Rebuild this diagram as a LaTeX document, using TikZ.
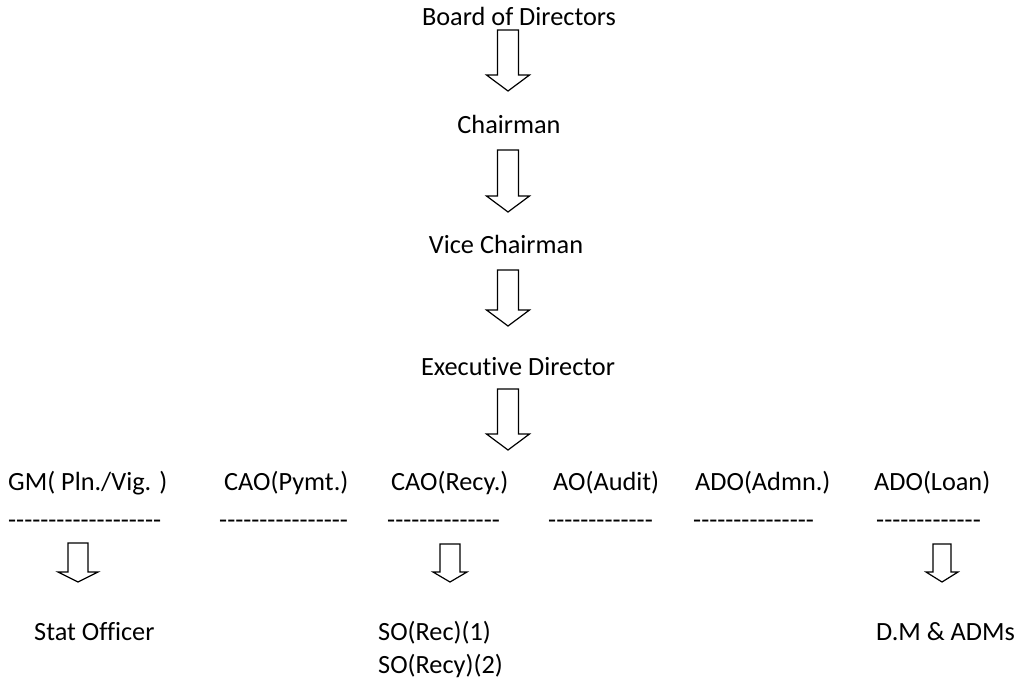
\documentclass[tikz,border=0pt]{standalone}
\usepackage{fontspec}
\setmainfont{Carlito}[Ligatures={TeXOff,NoCommon}]
\usetikzlibrary{calc}

% hollow block arrow pointing down: top, tip, half body, half head, head length
\newcommand{\blockdown}[5]{%
  \draw[blk] let \p1=(#1), \p2=(#2) in
    (\x1-#3,\y1) -- (\x1+#3,\y1) -- (\x1+#3,\y2+#5) -- (\x1+#4,\y2+#5)
    -- (\x2,\y2) -- (\x1-#4,\y2+#5) -- (\x1-#3,\y2+#5) -- cycle;
}

\begin{document}
\begin{tikzpicture}[
  x=1pt, y=-1pt,
  lbl/.style={anchor=base, inner sep=0pt, font=\fontsize{26.3}{33}\selectfont},
  role/.style={lbl, anchor=base west},
  blk/.style={draw, line width=1.2pt, line join=miter}
]
\useasboundingbox (0,0) rectangle (1026,681);

% top of the chain
\node[lbl] (bod) at (519,25) {Board of Directors};
\node[lbl] (chair) at (509,133) {Chairman};
\node[lbl] (vice) at (506,253) {Vice Chairman};
\node[lbl] (ed) at (518,375) {Executive Director};

\coordinate (a1t) at (508,30);  \coordinate (a1b) at (508,91);
\coordinate (a2t) at (508,150); \coordinate (a2b) at (508,212);
\coordinate (a3t) at (508,270); \coordinate (a3b) at (508,326);
\coordinate (a4t) at (508,389); \coordinate (a4b) at (508,450);

\blockdown{a1t}{a1b}{10.5pt}{21.5pt}{16pt}
\blockdown{a2t}{a2b}{10.5pt}{21.5pt}{16pt}
\blockdown{a3t}{a3b}{10.5pt}{21.5pt}{16pt}
\blockdown{a4t}{a4b}{10.5pt}{21.5pt}{16pt}

% second row
\node[role] (gm) at (8,490) {GM( Pln./Vig. )};
\node[role] (caop) at (224,490) {CAO(Pymt.)};
\node[role] (caor) at (391,490) {CAO(Recy.)};
\node[role] (ao) at (553,490) {AO(Audit)};
\node[role] (adoa) at (695,490) {ADO(Admn.)};
\node[role] (adol) at (874,490) {ADO(Loan)};

\node[role] (d1) at (8,528) {-------------------};
\node[role] (d2) at (219,528) {----------------};
\node[role] (d3) at (387,528) {--------------};
\node[role] (d4) at (548,528) {-------------};
\node[role] (d5) at (693,528) {---------------};
\node[role] (d6) at (876,528) {-------------};

\coordinate (s1t) at (78,543);  \coordinate (s1b) at (78,582);
\coordinate (s2t) at (450,544); \coordinate (s2b) at (450,582);
\coordinate (s3t) at (942,544); \coordinate (s3b) at (942,582);

\blockdown{s1t}{s1b}{10pt}{20pt}{10pt}
\blockdown{s2t}{s2b}{10pt}{17pt}{10pt}
\blockdown{s3t}{s3b}{9pt}{16pt}{10pt}

% bottom row
\node[role] (stat) at (34,640) {Stat Officer};
\node[role, align=left] (so) at (378,673) {SO(Rec)(1)\\SO(Recy)(2)};
\node[role] (dm) at (876,640) {D.M \& ADMs};
\end{tikzpicture}
\end{document}
